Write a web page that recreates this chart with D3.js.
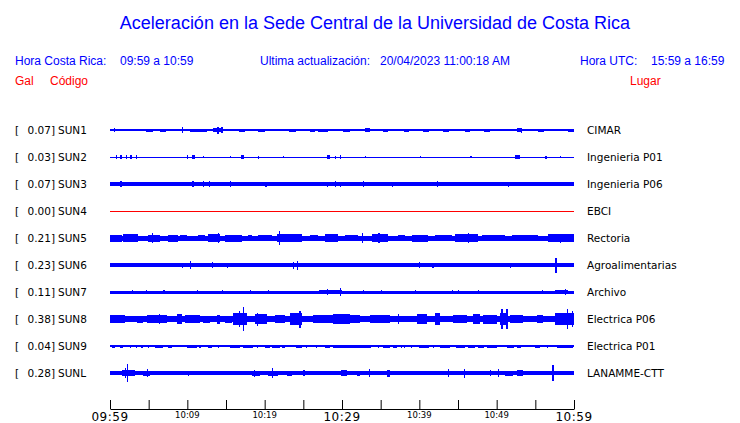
<!DOCTYPE html>
<html><head><meta charset="utf-8">
<script src="https://cdn.jsdelivr.net/npm/d3@7"></script>
<style>body{margin:0;background:#fff}svg{display:block}</style>
</head><body><svg id="c" width="740" height="423"></svg>
<script>
// ---------------- DATA ----------------
const titleText = "Aceleración en la Sede Central de la Universidad de Costa Rica";
const localRange = "09:59 a 10:59";
const utcRange = "15:59 a 16:59";
const updated = "20/04/2023 11:00:18 AM";

const stationCodes  = ["SUN1","SUN2","SUN3","SUN4","SUN5","SUN6","SUN7","SUN8","SUN9","SUNL"];
const stationPlaces = ["CIMAR","Ingenieria P01","Ingenieria P06","EBCI","Rectoria","Agroalimentarias","Archivo","Electrica P06","Electrica P01","LANAMME-CTT"];
const peakGal       = [0.07,0.03,0.07,0.00,0.21,0.23,0.11,0.38,0.04,0.28];
// background noise half-amplitude (relative units)
const noiseBase     = [0.6,0.5,1.7,0.5,2.5,1.7,1.5,3.0,0.6,1.7];

const axisMajorLabels = ["09:59","10:29","10:59"];
const axisMinorLabels = ["10:09","10:19","10:39","10:49"];

// bursts: [start minute, end minute, half-amplitude] (minutes after 09:59)
const burstsSUN1 = [[0.1,1.3,1.4],[0.5,0.7,2.4],[2.2,2.5,1.3],[2.9,3.5,1.4],[3.8,4.2,1.3],[4.7,5.6,1.5],[6.5,7.3,1.5],[7.7,7.9,1.2],[8.7,8.9,1.3],[9.3,9.5,3.0],[10.3,11.2,1.5],[11.3,12.6,1.5],[13.3,14.3,2.0],[13.9,14.0,3.5],[14.4,14.5,3.2],[15.0,15.4,1.3],[16.1,16.3,1.2],[16.7,17.4,1.5],[18.0,18.2,1.3],[19.2,20.0,1.5],[20.2,20.9,1.4],[21.5,21.9,1.3],[22.3,22.8,1.4],[23.2,24.0,1.5],[24.6,25.2,1.4],[25.9,26.5,1.5],[26.9,28.2,1.5],[28.8,29.2,1.3],[30.1,31.0,1.5],[31.8,32.3,1.4],[33.0,33.6,1.6],[34.3,34.6,1.3],[35.3,36.0,1.5],[36.8,37.2,1.3],[38.0,38.6,1.5],[39.4,39.8,1.3],[40.5,41.3,1.5],[42.2,42.5,1.3],[43.1,43.8,1.5],[44.8,45.1,1.3],[45.9,46.6,1.5],[47.4,47.7,1.3],[48.3,49.2,1.5],[50.0,50.4,1.3],[51.1,51.6,1.4],[52.6,53.3,1.6],[53.1,53.2,2.5],[54.2,54.6,1.3],[55.4,56.1,1.5],[57.0,57.3,1.3],[58.0,58.7,1.4],[59.2,60,1.5]];
const burstsSUN2 = [[0.75,0.85,2],[1.35,1.45,2],[2.1,2.2,1.8],[2.65,2.75,2],[3.4,3.5,1.8],[9.9,10.0,1.8],[10.6,11.0,1.6],[12.0,12.1,1.3],[15.5,15.6,1.3],[17.0,17.3,1.6],[19.15,19.25,1.5],[22.4,22.5,1.3],[28.0,28.5,1.6],[29.1,29.2,1.5],[29.7,29.8,1.8],[33.0,33.1,1.3],[40.1,40.2,1.3],[46.6,46.7,1.4],[52.4,53.0,1.6],[56.3,56.4,1.5],[58.2,58.3,1.4]];
const burstsSUN3 = [[1.35,1.45,2.6],[10.65,10.75,3.0],[12.0,12.1,2.8],[12.8,12.9,2.8],[15.5,15.6,3.0],[17.0,17.1,2.3],[20.1,20.25,2.5],[28.0,28.1,2.5],[29.1,29.2,3.0],[29.7,29.8,2.5],[32.7,32.8,3.0],[36.5,36.6,2.5],[42.3,42.4,2.8],[47.0,47.1,2.3],[51.5,51.6,2.5],[56.0,56.1,2.3]];
const burstsSUN4 = [];
const burstsSUN5 = [[0,1.55,3.5],[1.7,3.6,4.0],[4.9,6.5,3.5],[5.4,5.5,4.7],[7.5,8.8,3.5],[9.1,10.0,3.2],[11.4,12.3,3.2],[12.7,14.2,3.8],[14.0,14.1,4.7],[14.9,17.1,3.5],[17.8,18.4,3.2],[19.1,20.9,3.2],[21.6,24.8,3.6],[21.8,21.9,7.0],[25.9,26.9,3.3],[27.8,29.5,3.7],[30.4,32.1,3.2],[32.6,32.7,5.0],[33.9,36.0,3.8],[34.7,34.8,5.0],[37.2,38.1,3.2],[39.1,41.1,3.5],[42.0,44.2,3.2],[44.6,47.6,4.0],[46.3,46.4,5.0],[48.1,51.1,3.3],[52.0,55.3,3.3],[56.6,60,4.0],[58.2,58.3,4.5]];
const burstsSUN6 = [[3.9,4.0,2.1],[5.55,5.65,2.3],[9.25,9.35,2.5],[10.3,10.4,4.0],[12.3,12.4,2.1],[13.2,13.3,3.0],[15.1,15.2,2.5],[16.2,16.3,2.0],[18.1,18.2,2.0],[23.6,23.7,3.5],[24.2,24.3,4.5],[27.2,27.3,2.1],[30.4,30.5,2.2],[34.3,34.4,2.2],[39.4,40.5,2.2],[39.9,40.0,2.6],[41.7,41.8,2.5],[46.5,46.6,2.0],[51.7,51.8,2.5],[55.8,55.9,2.2],[57.6,57.7,7.5]];
const burstsSUN7 = [[2.8,2.9,2.3],[4.6,4.7,2.3],[6.9,7.0,2.0],[11.2,11.3,2.3],[14.5,14.6,2.0],[18.1,18.2,2.0],[20.4,20.5,2.3],[27.0,30.0,2.1],[28.0,28.1,3.2],[29.7,29.8,4.0],[32.7,32.8,2.2],[35.0,35.1,2.0],[39.4,39.5,2.2],[44.2,44.3,2.3],[45.0,45.1,2.2],[47.6,47.7,2.0],[55.9,56.0,2.0],[57.5,59.2,2.1],[58.8,58.9,2.7]];
const burstsSUN8 = [[0,1.9,4.0],[3.5,4.3,3.5],[4.8,7.4,4.0],[6.3,6.4,5.0],[8.7,9.3,5.0],[9.7,11.6,3.7],[12.0,12.9,3.5],[13.8,14.2,4.5],[14.9,15.8,3.5],[15.9,17.7,6.0],[16.7,16.8,8.0],[17.2,17.3,12.0],[18.8,20.3,5.0],[19.0,19.1,6.5],[21.3,22.6,3.6],[23.3,24.8,6.0],[24.5,24.6,8.5],[26.3,28.8,4.0],[28.8,31.0,5.0],[31.0,32.3,4.0],[33.6,36.2,3.8],[37.2,37.3,5.0],[39.7,41.0,5.0],[42.0,42.7,6.0],[44.4,46.2,4.0],[47.0,47.8,5.0],[48.2,50.0,4.5],[50.4,51.3,6.0],[50.6,50.7,10.0],[51.25,51.35,10.0],[51.7,53.4,4.0],[55.2,56.0,4.0],[57.5,60,6.0],[59.1,59.2,10.0],[59.7,59.8,8.0]];
const burstsSUN9 = [[0.2,0.65,1.5],[1.3,1.7,1.5],[2.55,2.65,1.5],[3.4,3.5,1.5],[4.05,4.15,1.5],[4.9,5.0,1.5],[5.8,6.9,1.5],[7.55,8.0,1.5],[9.9,11.2,1.5],[11.55,11.65,1.5],[12.7,13.15,1.5],[13.95,14.05,1.5],[15.5,16.8,1.5],[17.2,18.5,1.5],[19.0,19.2,1.5],[20.0,20.7,1.5],[20.9,22.0,1.5],[22.2,22.6,1.5],[24.1,24.8,1.5],[25.35,25.45,1.5],[26.65,26.75,1.5],[27.8,28.45,1.5],[28.9,31.0,1.5],[31.0,33.8,1.5],[34.65,34.75,1.5],[35.3,36.2,1.5],[36.6,37.1,1.5],[37.65,37.75,1.5],[38.05,38.15,1.5],[38.95,39.05,1.5],[39.9,41.2,1.5],[41.75,41.85,1.5],[42.7,44.0,1.5],[44.8,45.9,1.5],[46.3,47.2,1.5],[47.6,48.3,1.5],[48.7,50.0,1.5],[51.3,52.2,1.5],[52.6,53.2,1.5],[55.0,55.6,1.5],[56.45,56.55,1.5],[57.8,59.9,1.5]];
const burstsSUNL = [[1.5,3.2,3.0],[1.9,2.0,5.0],[2.2,2.3,9.3],[4.3,5.2,2.5],[4.8,4.9,4.0],[6.2,6.3,2.2],[8.8,8.9,2.2],[10.1,10.2,2.5],[12.3,12.4,2.2],[14.9,15.0,2.0],[18.4,19.4,2.5],[18.6,18.7,3.5],[20.4,21.7,2.5],[20.9,21.1,5.0],[22.9,23.5,2.5],[25.0,25.1,3.0],[26.3,26.4,2.2],[28.1,28.8,2.3],[29.9,30.7,3.0],[31.9,32.3,2.5],[33.5,33.6,4.0],[34.7,34.8,2.2],[35.8,36.2,3.5],[37.2,37.3,2.2],[43.7,43.8,4.0],[45.8,45.9,4.5],[48.2,48.3,2.2],[49.1,49.2,3.0],[50.2,50.3,4.0],[51.1,52.1,2.5],[52.6,53.4,3.0],[54.6,55.7,2.3],[57.2,57.3,8.3],[58.6,59.5,2.3]];

const burstsByStation = {SUN1:burstsSUN1,SUN2:burstsSUN2,SUN3:burstsSUN3,SUN4:burstsSUN4,SUN5:burstsSUN5,SUN6:burstsSUN6,SUN7:burstsSUN7,SUN8:burstsSUN8,SUN9:burstsSUN9,SUNL:burstsSUNL};

// ---------------- DRAWING ----------------
const svg = d3.select("#c");
const BLUE = "#0000ff", RED = "#ff0000";
const T0 = new Date(2023,3,20,9,59), T1 = new Date(2023,3,20,10,59);
const minToDate = m => new Date(T0.getTime() + m*60000);
const hhmmToDate = s => { const [h,m] = s.split(":").map(Number); return new Date(2023,3,20,h,m); };

const x = d3.scaleTime().domain([T0,T1]).range([110,574]);
const y = d3.scalePoint().domain(stationCodes).range([130,373]);
const amp = d3.scaleLinear().domain([0,10]).range([0,10]);

// title & header
svg.append("text").attr("x",375).attr("y",29).attr("text-anchor","middle")
  .attr("font-family","Liberation Sans, Arial, sans-serif").attr("font-size",18).attr("fill",BLUE).text(titleText);
const hdr = (tx,xx,yy,col,anchor) => svg.append("text").attr("x",xx).attr("y",yy)
  .attr("text-anchor",anchor||"start").attr("font-family","Liberation Sans, Arial, sans-serif")
  .attr("font-size",12).attr("fill",col).text(tx);
hdr("Hora Costa Rica:",15,65,BLUE);
hdr(localRange,120,65,BLUE);
hdr("Ultima actualización:",260,65,BLUE);
hdr(updated,380,65,BLUE);
hdr("Hora UTC:",580,65,BLUE);
hdr(utcRange,651,65,BLUE);
hdr("Gal",15,85,RED);
hdr("Código",50,85,RED);
hdr("Lugar",630,85,RED);

// traces
const rows = svg.append("g").attr("shape-rendering","crispEdges");
stationCodes.forEach((code,i) => {
  const cy = y(code);
  const col = code === "SUN4" ? RED : BLUE;
  const g = rows.append("g");
  const b = amp(noiseBase[i]);
  g.append("rect").attr("x",x(T0)).attr("width",x(T1)-x(T0))
    .attr("y",cy-Math.max(b,0.5)).attr("height",Math.max(2*b,1)).attr("fill",col);
  g.selectAll("rect.burst").data(burstsByStation[code]).join("rect").attr("class","burst")
    .attr("x",d => x(minToDate(d[0])))
    .attr("width",d => Math.max(1.2, x(minToDate(d[1]))-x(minToDate(d[0]))))
    .attr("y",d => cy-amp(d[2])).attr("height",d => 2*amp(d[2])).attr("fill",col);

  const lab = svg.append("g").attr("font-family","DejaVu Sans, sans-serif").attr("font-size",10.5).attr("fill","#000");
  lab.append("text").attr("x",15).attr("y",cy+4).text("[");
  lab.append("text").attr("x",55).attr("y",cy+4).attr("text-anchor","end").text(peakGal[i].toFixed(2)+"]");
  lab.append("text").attr("x",58).attr("y",cy+4).text(code);
  lab.append("text").attr("x",587).attr("y",cy+4).text(stationPlaces[i]);
});

// time axis
const tickVals = d3.range(0,61,5).map(minToDate);
const ax = svg.append("g").attr("transform","translate(0,409)")
  .call(d3.axisTop(x).tickValues(tickVals).tickSize(9).tickSizeOuter(0).tickFormat(""));
ax.select(".domain").attr("stroke","#000");
ax.selectAll(".tick line").attr("stroke","#000");

svg.append("g").selectAll("text").data(axisMajorLabels).join("text")
  .attr("x",d => x(hhmmToDate(d))).attr("y",421).attr("text-anchor","middle")
  .attr("font-family","DejaVu Sans, sans-serif").attr("font-size",12).attr("letter-spacing",0.5).text(d => d);
svg.append("g").selectAll("text").data(axisMinorLabels).join("text")
  .attr("x",d => x(hhmmToDate(d))).attr("y",418).attr("text-anchor","middle")
  .attr("font-family","DejaVu Sans, sans-serif").attr("font-size",8.5).text(d => d);
</script></body></html>
